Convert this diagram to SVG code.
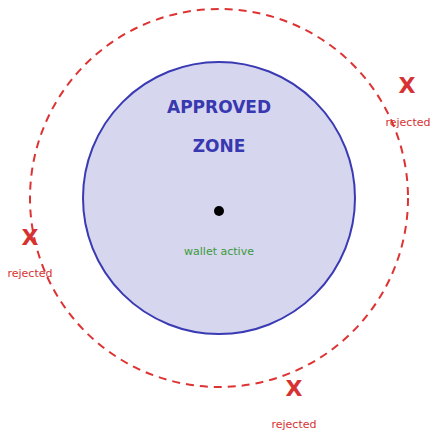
<svg xmlns="http://www.w3.org/2000/svg" width="431" height="430" viewBox="0 0 431 430">
<style>
.title{font-family:"DejaVu Sans","Liberation Sans",sans-serif;font-weight:bold;font-size:17px;fill:#3838b0;text-anchor:middle}
.x{font-family:"DejaVu Sans","Liberation Sans",sans-serif;font-weight:bold;font-size:22px;fill:#d63232;text-anchor:middle}
.rej{font-family:"DejaVu Sans","Liberation Sans",sans-serif;font-size:11px;fill:#d63232;text-anchor:middle}
.ok{font-family:"DejaVu Sans","Liberation Sans",sans-serif;font-size:11px;fill:#3a9a3a;text-anchor:middle}
</style>
<rect width="431" height="430" fill="#ffffff"/>
<g id="boundary">
<circle cx="219" cy="198" r="189" fill="none" stroke="#dd3333" stroke-width="2" stroke-dasharray="8,6"/>
</g>
<g id="zone">
<circle cx="219" cy="198" r="136" fill="#d6d6ee" stroke="#3a3ab4" stroke-width="2"/>
<text class="title" x="219" y="113">APPROVED</text>
<text class="title" x="219" y="152">ZONE</text>
</g>
<g id="wallet">
<circle cx="219" cy="211" r="5" fill="#000"/>
<text class="ok" x="219" y="255">wallet active</text>
</g>
<g id="reject1">
<text class="x" x="407" y="93">X</text>
<text class="rej" x="408" y="126">rejected</text>
</g>
<g id="reject2">
<text class="x" x="30" y="245">X</text>
<text class="rej" x="30" y="277">rejected</text>
</g>
<g id="reject3">
<text class="x" x="294" y="396">X</text>
<text class="rej" x="294" y="428">rejected</text>
</g>
</svg>
